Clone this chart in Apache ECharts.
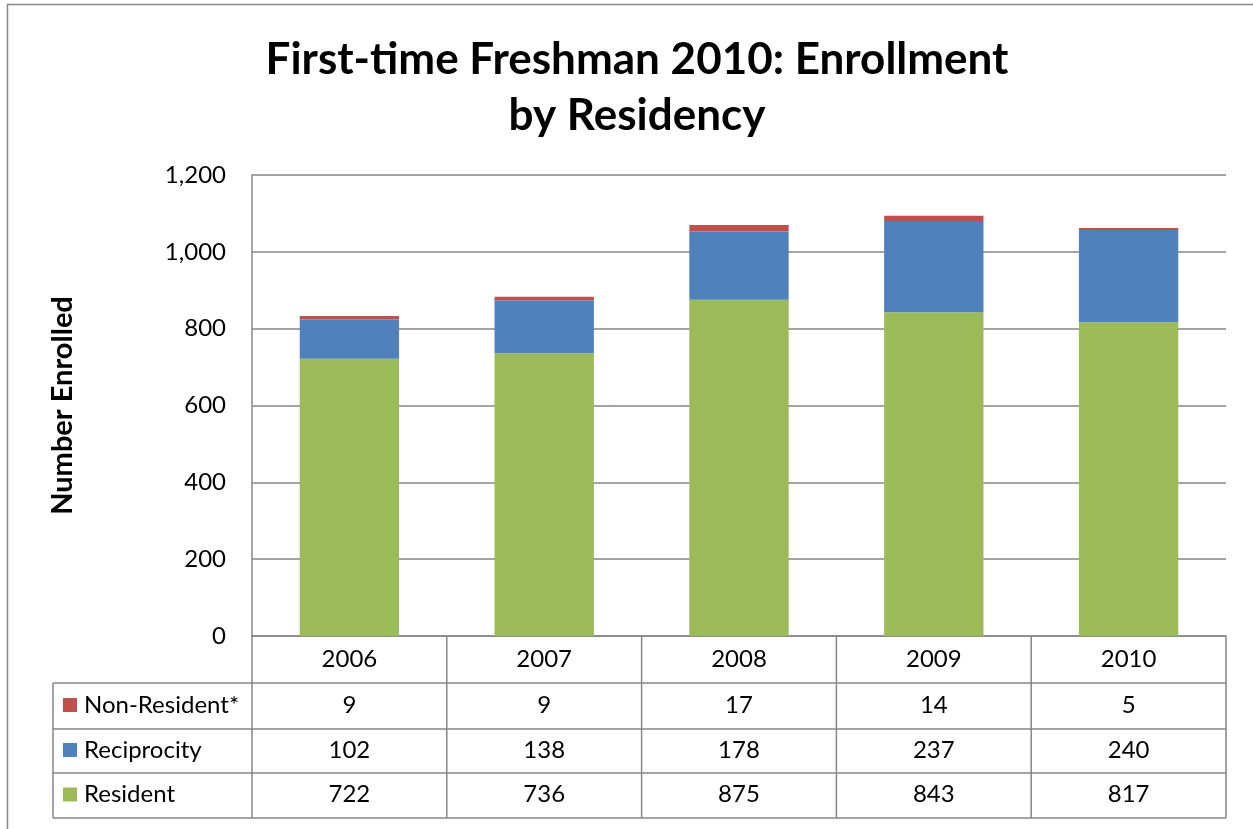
<!DOCTYPE html>
<html>
<head>
<meta charset="utf-8">
<script src="https://cdn.jsdelivr.net/npm/echarts@6/dist/echarts.min.js"></script>
<style>
html,body{margin:0;padding:0;background:#fff;}
#main{width:1253px;height:829px;}
</style>
</head>
<body>
<div id="main"></div>
<script>
var categories = ['2006', '2007', '2008', '2009', '2010'];
var seriesNames = ['Non-Resident*', 'Reciprocity', 'Resident'];
var nonResident = [9, 9, 17, 14, 5];
var reciprocity = [102, 138, 178, 237, 240];
var resident = [722, 736, 875, 843, 817];
var yTicks = [0, 200, 400, 600, 800, 1000, 1200];
var colors = { 'Non-Resident*': '#C0504D', 'Reciprocity': '#4F81BD', 'Resident': '#9BBB59' };

var FONT = 'Lato, "Open Sans", sans-serif';
var chart = echarts.init(document.getElementById('main'), null, { renderer: 'canvas' });

var option = {
  animation: false,
  backgroundColor: '#fff',
  title: {
    text: 'First-time Freshman 2010: Enrollment\nby Residency',
    left: 632, top: 27, textAlign: 'center',
    textStyle: { fontFamily: FONT, fontWeight: 'bold', fontSize: 44, lineHeight: 56, color: '#000' }
  },
  grid: { left: 252, right: 27, top: 175, bottom: 193, containLabel: false },
  xAxis: {
    type: 'category', data: categories,
    axisLine: { show: true, lineStyle: { color: '#868686', width: 1.5 } },
    axisTick: { show: false }, axisLabel: { show: false }
  },
  yAxis: {
    type: 'value', min: yTicks[0], max: yTicks[yTicks.length - 1], interval: 200,
    name: 'Number Enrolled', nameLocation: 'middle', nameGap: 175, nameRotate: 90,
    nameTextStyle: { fontFamily: FONT, fontWeight: 'bold', fontSize: 29, color: '#000' },
    axisLine: { show: true, lineStyle: { color: '#868686', width: 1.5 } },
    axisTick: { show: false },
    axisLabel: {
      fontFamily: FONT, fontSize: 24, color: '#000', margin: 26,
      formatter: function (v) { return v.toLocaleString('en-US'); }
    },
    splitLine: { lineStyle: { color: '#868686', width: 1.5 } }
  },
  series: [
    { name: 'Resident', type: 'bar', stack: 'a', data: resident, barWidth: '51%', itemStyle: { color: colors['Resident'] } },
    { name: 'Reciprocity', type: 'bar', stack: 'a', data: reciprocity, itemStyle: { color: colors['Reciprocity'] } },
    { name: 'Non-Resident*', type: 'bar', stack: 'a', data: nonResident, itemStyle: { color: colors['Non-Resident*'] } }
  ]
};
chart.setOption(option);

function buildTable() {
  var c0 = chart.convertToPixel({ xAxisIndex: 0 }, categories[0]);
  var c1 = chart.convertToPixel({ xAxisIndex: 0 }, categories[1]);
  var band = c1 - c0;
  var yBase = chart.convertToPixel({ yAxisIndex: 0 }, 0);
  var plotLeft = c0 - band / 2;
  var plotRight = plotLeft + band * categories.length;
  var rowTops = [yBase, yBase + 47, yBase + 93, yBase + 137, yBase + 182];
  var tableLeft = 53;
  var lineStyle = { stroke: '#868686', lineWidth: 1.5 };
  var TF = '24px ' + FONT;
  var els = [];
  els.push({ type: 'rect', shape: { x: 7.5, y: 4.5, width: 1260, height: 840 }, style: { fill: null, stroke: '#868686', lineWidth: 1.5 }, silent: true });
  for (var i = 1; i < rowTops.length; i++) {
    els.push({ type: 'line', shape: { x1: tableLeft, y1: rowTops[i], x2: plotRight, y2: rowTops[i] }, style: lineStyle });
  }
  els.push({ type: 'line', shape: { x1: tableLeft, y1: rowTops[1], x2: tableLeft, y2: rowTops[4] }, style: lineStyle });
  for (var k = 0; k <= categories.length; k++) {
    var x = plotLeft + band * k;
    els.push({ type: 'line', shape: { x1: x, y1: rowTops[0], x2: x, y2: rowTops[4] }, style: lineStyle });
  }
  categories.forEach(function (cat, j) {
    els.push({ type: 'text', style: { text: cat, x: plotLeft + band * (j + 0.5), y: (rowTops[0] + rowTops[1]) / 2, textAlign: 'center', textVerticalAlign: 'middle', font: TF, fill: '#000' } });
  });
  var rows = [nonResident, reciprocity, resident];
  rows.forEach(function (vals, r) {
    var yMid = (rowTops[r + 1] + rowTops[r + 2]) / 2 - 1;
    var name = seriesNames[r];
    els.push({ type: 'rect', shape: { x: 63, y: yMid - 7, width: 14, height: 14 }, style: { fill: colors[name] } });
    els.push({ type: 'text', style: { text: name, x: 84, y: yMid, textAlign: 'left', textVerticalAlign: 'middle', font: TF, fill: '#000' } });
    vals.forEach(function (v, j) {
      els.push({ type: 'text', style: { text: String(v), x: plotLeft + band * (j + 0.5), y: yMid, textAlign: 'center', textVerticalAlign: 'middle', font: TF, fill: '#000' } });
    });
  });
  chart.setOption({ graphic: { elements: els } });
}
buildTable();
</script>
</body>
</html>
